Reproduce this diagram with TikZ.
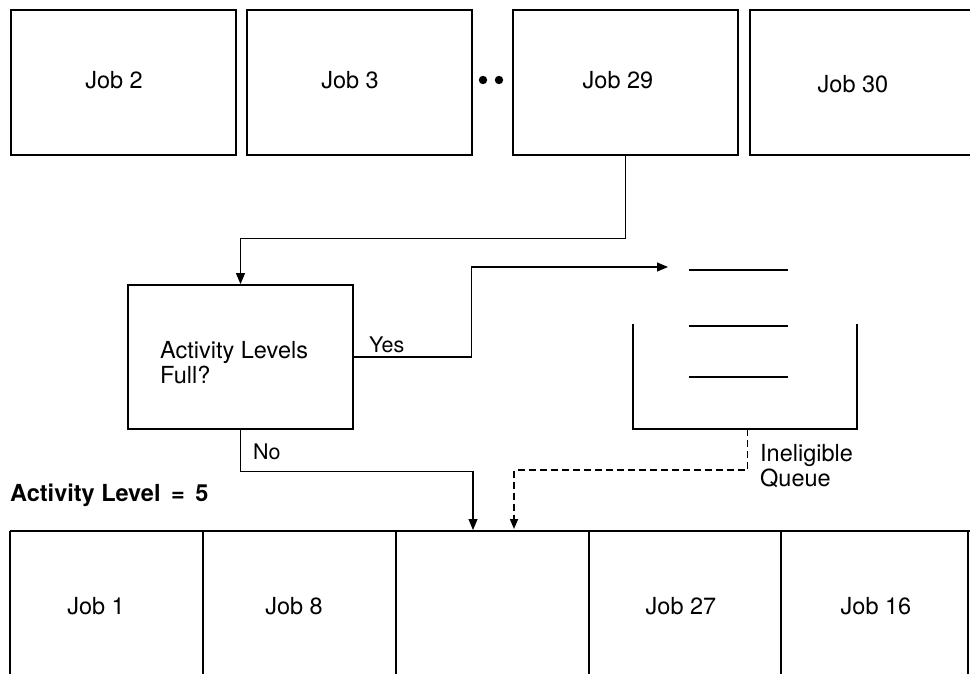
\documentclass[tikz,border=0pt]{standalone}
\usepackage{fontspec}
\setmainfont{TeX Gyre Heros}
\usetikzlibrary{arrows.meta}
\begin{document}
\begin{tikzpicture}[x=1pt,y=-1pt,
  every node/.style={font=\fontsize{23.5}{25}\selectfont, inner sep=0pt},
  jobbox/.style={draw, line width=1.8pt, minimum width=225pt, minimum height=145pt, anchor=north west},
  decbox/.style={draw, line width=1.8pt, minimum width=225pt, minimum height=144pt},
  small/.style={font=\fontsize{21.5}{24}\selectfont},
  conn/.style={line width=1.1pt, -{Triangle[length=11pt,width=9pt]}},
  dashconn/.style={line width=1.7pt, dash pattern=on 7pt off 4pt, -{Triangle[length=10pt,width=8pt]}},
  wall/.style={line width=1.8pt},
  item/.style={line width=1.6pt},
  divider/.style={line width=1.2pt}]
\useasboundingbox (0,0) rectangle (970,673);
\clip (0,0) rectangle (970,673);

% waiting jobs
\node[jobbox] (j2)  at (10,9)  {};
\node[jobbox] (j3)  at (246,9) {};
\node[jobbox] (j29) at (512,9) {};
\node[jobbox, minimum width=260pt] (j30) at (749,9) {};
\node (j2lbl)  at (114,80) {Job 2};
\node (j3lbl)  at (350,80) {Job 3};
\node (j29lbl) at (618,80) {Job 29};
\node (j30lbl) at (853,84) {Job 30};
\fill (483,80) circle (4.2pt);
\fill (499,80) circle (4.2pt);

% decision
\node[decbox] (dec) at (240.5,357) {};
\node[anchor=north west, align=left] (declbl) at (160,341) {Activity Levels\\Full?};

% ineligible queue
\node[minimum width=224pt, minimum height=105pt] (queue) at (745,376.5) {};
\draw[wall] (queue.north west) |- (queue.south) -| (queue.north east);
\draw[item] (689,270) -- (788,270);
\draw[item] (689,326) -- (788,326);
\draw[item] (689,377) -- (788,377);
\coordinate (qin) at (668,267);
\node[anchor=north west, align=left] (qlbl) at (760,444) {Ineligible\\Queue};

% activity levels
\node[anchor=base west, font=\bfseries\fontsize{23.5}{25}\selectfont] (alvl) at (10,501) {Activity Level\hspace{0.45em}=\hspace{0.45em}5};
\draw[wall] (10,531) -- (980,531);
\foreach \x in {10,203,396,589,781,968} \draw[divider] (\x,531) -- (\x,680);
\node (j1)  at (96,606)  {Job 1};
\node (j8)  at (294,606) {Job 8};
\node (j27) at (681,606) {Job 27};
\node (j16) at (876,606) {Job 16};
\coordinate (noin) at (473,530);
\coordinate (dashin) at (514,529);

% connectors
\draw[conn] (j29.south) -- ++(0,83) -| (dec.north);
\draw[conn] (dec.east) -- ++(118,0) |- (qin);
\node[anchor=base west, small] (yes) at (369,352) {Yes};
\draw[conn] (dec.south) -- ++(0,42) -| (noin);
\node[anchor=base west, small] (no) at (253,459) {No};
\draw[dashconn] ([xshift=2.5pt]queue.south) -- ++(0,41) -| (dashin);
\end{tikzpicture}
\end{document}
